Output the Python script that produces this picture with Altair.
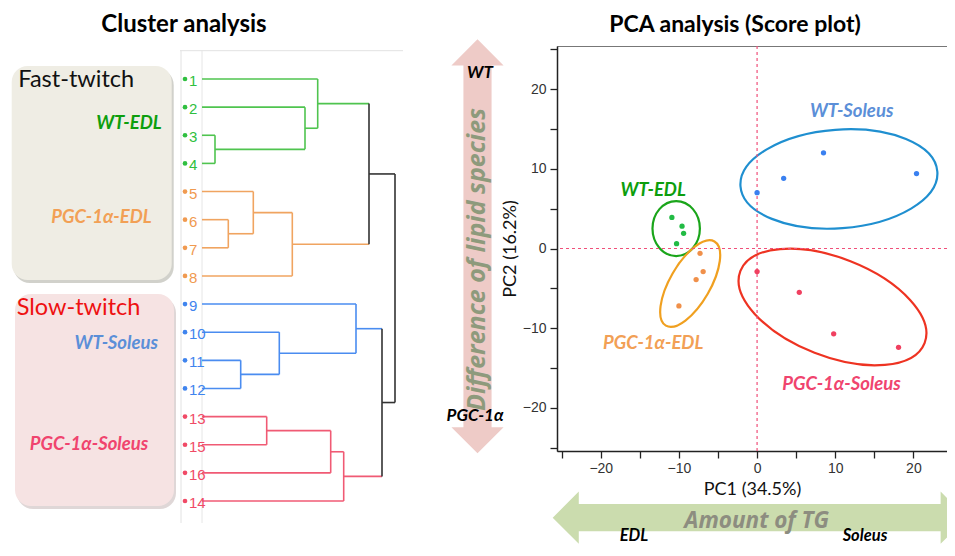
import altair as alt
import pandas as pd

# ---------------- data ----------------
groups = ["WT-EDL", "PGC-1α-EDL", "WT-Soleus", "PGC-1α-Soleus"]

# PCA scores
wt_edl_pc1 = [-10.9, -9.6, -9.4, -10.3]
wt_edl_pc2 = [3.9, 2.8, 1.9, 0.6]
pgc_edl_pc1 = [-7.3, -6.9, -7.8, -10.0]
pgc_edl_pc2 = [-0.6, -2.9, -3.9, -7.2]
wt_sol_pc1 = [0.0, 3.4, 8.5, 20.4]
wt_sol_pc2 = [7.0, 8.8, 12.0, 9.4]
pgc_sol_pc1 = [0.0, 5.4, 9.8, 18.1]
pgc_sol_pc2 = [-2.9, -5.5, -10.7, -12.4]

# group ellipse centres (PC1, PC2)
ell_pc1 = [-10.35, -8.56, 10.47, 9.65]
ell_pc2 = [2.5, -4.4, 8.72, -7.34]

# group label positions (PC1, PC2)
lab_pc1 = [-13.3, -13.3, 12.1, 10.8]
lab_pc2 = [7.4, -11.8, 17.3, -17.0]

# dendrogram: leaf order (top to bottom) and groups
leaf_labels = ["1", "2", "3", "4", "5", "6", "7", "8",
               "9", "10", "11", "12", "13", "15", "16", "14"]
leaf_groups = ["WT-EDL"] * 4 + ["PGC-1α-EDL"] * 4 + ["WT-Soleus"] * 4 + ["PGC-1α-Soleus"] * 4

merge_names = ["A", "B", "C", "D", "E", "F", "G", "H", "I", "J", "K", "L", "M", "N", "R"]
merge_left = ["3", "2", "1", "6", "5", "E", "C", "11", "10", "9", "13", "K", "L", "J", "G"]
merge_right = ["4", "A", "B", "7", "D", "8", "F", "12", "H", "I", "15", "16", "14", "M", "N"]
merge_heights = [13, 103, 115.7, 26.3, 51.3, 90.3, 167,
                 38.7, 77.3, 154, 64.7, 128.7, 141.7, 180, 193]
merge_groups = (["WT-EDL"] * 3 + ["PGC-1α-EDL"] * 3 + ["mixed"] +
                ["WT-Soleus"] * 3 + ["PGC-1α-Soleus"] * 3 + ["mixed"] * 2)

# ---------------- styles / layout ----------------
pt_colors = ["#22bb44", "#f0904a", "#3a80f0", "#f04060"]
ell_colors = ["#1aa51a", "#f0a020", "#1f8fd0", "#ee3322"]
lab_colors = ["#0d9e0d", "#f2a055", "#5b8fd8", "#f0446e"]
dendro_colors = {"WT-EDL": "#4fc44f", "PGC-1α-EDL": "#f0a460",
                 "WT-Soleus": "#4a8cf0", "PGC-1α-Soleus": "#f05a74", "mixed": "#333333"}
leaf_colors = {"WT-EDL": "#2fbf3f", "PGC-1α-EDL": "#f09a50",
               "WT-Soleus": "#3f84ee", "PGC-1α-Soleus": "#f04a66"}
LEAF_FONT = "Liberation Sans"

OX, OY = 557, 46          # page position of the PCA plot area's top-left corner
PW, PH = 390, 405         # PCA plot area size


def RX(x):
    return x - OX


def RY(y):
    return y - OY


one = alt.Data(values=[{"a": 1}])


def txt(s, x, y, size, color, weight="normal", style="normal", align="center",
        angle=None, font="Lato"):
    kw = dict(text=s, fontSize=size, color=color, fontWeight=weight, fontStyle=style,
              align=align, baseline="middle", font=font)
    if angle is not None:
        kw["angle"] = angle
    return alt.Chart(one).mark_text(**kw).encode(x=alt.value(RX(x)), y=alt.value(RY(y)))


def box(x, x2, y, y2, color, r=0, opacity=1.0):
    return alt.Chart(one).mark_rect(color=color, cornerRadius=r, opacity=opacity).encode(
        x=alt.value(RX(x)), x2=alt.value(RX(x2)), y=alt.value(RY(y)), y2=alt.value(RY(y2)))


def rule(x, x2, y, y2, color, w=1.0):
    return alt.Chart(one).mark_rule(color=color, strokeWidth=w).encode(
        x=alt.value(RX(x)), x2=alt.value(RX(x2)), y=alt.value(RY(y)), y2=alt.value(RY(y2)))


def ellipse_path(rx, ry):
    m = max(rx, ry)
    a, b, k = rx / m, ry / m, 0.5523
    f = lambda v: f"{v:.4f}"
    return (f"M{f(a)},0C{f(a)},{f(k*b)} {f(k*a)},{f(b)} 0,{f(b)}"
            f"C{f(-k*a)},{f(b)} {f(-a)},{f(k*b)} {f(-a)},0"
            f"C{f(-a)},{f(-k*b)} {f(-k*a)},{f(-b)} 0,{f(-b)}"
            f"C{f(k*a)},{f(-b)} {f(a)},{f(-k*b)} {f(a)},0Z"), (2 * m) ** 2


def arrow_path(head_w, shaft_w, head_l, vertical=True):
    pts = [(0, -1), (head_w, -1 + head_l), (shaft_w, -1 + head_l), (shaft_w, 1 - head_l),
           (head_w, 1 - head_l), (0, 1), (-head_w, 1 - head_l), (-shaft_w, 1 - head_l),
           (-shaft_w, -1 + head_l), (-head_w, -1 + head_l)]
    if not vertical:
        pts = [(y, x) for x, y in pts]
    return "M" + "L".join(f"{x:.4f},{y:.4f}" for x, y in pts) + "Z"


def arrow(cx, cy, shape, color):
    return alt.Chart(one).mark_point(shape=shape, size=414 ** 2, filled=True, color=color,
                                     opacity=1, strokeWidth=0).encode(
        x=alt.value(RX(cx)), y=alt.value(RY(cy)))


# ---------------- decorations (left panel + arrows), page coordinates ----------------
deco = [
    box(13.7, 173.7, 69, 283, "#bdbdb5", r=16, opacity=0.7),
    box(11.7, 171.7, 66, 280, "#efede4", r=16),
    box(17, 176, 297, 509, "#c9bdbd", r=16, opacity=0.6),
    box(15, 174, 294, 506, "#f6e3e3", r=16),
    txt("Fast-twitch", 18.3, 80, 23.5, "#111111", align="left"),
    txt("WT-EDL", 161.7, 122.7, 18.5, lab_colors[0], "bold", "italic", "right"),
    txt("PGC-1α-EDL", 151.7, 216.7, 18.5, lab_colors[1], "bold", "italic", "right"),
    txt("Slow-twitch", 16.7, 308.3, 23.5, "#ee1111", align="left"),
    txt("WT-Soleus", 158, 342.7, 18.5, lab_colors[2], "bold", "italic", "right"),
    txt("PGC-1α-Soleus", 148.3, 444, 18.5, lab_colors[3], "bold", "italic", "right"),
    txt("Cluster analysis", 184, 25, 24, "#000000", "bold"),
    txt("PCA analysis (Score plot)", 735, 25, 23, "#000000", "bold"),
    # dendrogram frame
    rule(180, 403, 50.7, 50.7, "#e2e2e2"),
    rule(181, 181, 50.7, 523, "#e2e2e2"),
    rule(202, 202, 50.7, 523, "#e6e6e6"),
    # vertical arrow
    arrow(477.5, 246.3, arrow_path(0.126, 0.068, 0.126, True), "#eecbc7"),
    txt("Difference of lipid species", 476.7, 259.5, 25, "#8e9a7c", "bold", "italic",
        angle=270, font="Open Sans"),
    txt("WT", 480, 72.5, 17, "#000000", "bold", "italic"),
    txt("PGC-1α", 475, 416, 17, "#000000", "bold", "italic"),
    # horizontal arrow
    arrow(759.7, 517.7, arrow_path(0.126, 0.066, 0.126, False), "#cbdcae"),
    txt("Amount of TG", 756.7, 520.7, 22.5, "#8d8d80", "bold", "italic", font="Open Sans"),
    txt("EDL", 634, 536, 16.5, "#000000", "bold", "italic"),
    txt("Soleus", 865, 536, 16.5, "#000000", "bold", "italic"),
]

# ---------------- dendrogram ----------------
node_y = {lab: i for i, lab in enumerate(leaf_labels)}
node_h = {lab: 0.0 for lab in leaf_labels}
node_g = dict(zip(leaf_labels, leaf_groups))
segs = []
for name, l, r, h, g in zip(merge_names, merge_left, merge_right, merge_heights, merge_groups):
    for c in (l, r):
        segs.append({"x": node_h[c], "x2": h, "y": node_y[c], "y2": node_y[c],
                     "c": dendro_colors[node_g[c]]})
    segs.append({"x": h, "x2": h, "y": node_y[l], "y2": node_y[r], "c": dendro_colors[g]})
    node_y[name] = (node_y[l] + node_y[r]) / 2
    node_h[name] = h
    node_g[name] = g
seg_df = pd.DataFrame(segs)

dxs = alt.Scale(domain=[0, 200], range=[RX(202), RX(402)], nice=False, zero=False)
dys = alt.Scale(domain=[0, 15], range=[RY(79), RY(501)], nice=False, zero=False)

seg_layer = alt.Chart(seg_df).mark_rule(strokeWidth=1.6).encode(
    x=alt.X("x:Q", scale=dxs, axis=None), x2="x2:Q",
    y=alt.Y("y:Q", scale=dys, axis=None), y2="y2:Q",
    color=alt.Color("c:N", scale=None))

leaf_df = pd.DataFrame({"idx": list(range(len(leaf_labels))), "lab": leaf_labels,
                        "c": [leaf_colors[g] for g in leaf_groups]})
dots = alt.Chart(leaf_df).mark_circle(size=22, opacity=1).encode(
    x=alt.value(RX(185)), y=alt.Y("idx:Q", scale=dys, axis=None),
    color=alt.Color("c:N", scale=None))
leaf_txt = alt.Chart(leaf_df).mark_text(align="left", baseline="middle", dy=2, fontSize=15,
                                        font=LEAF_FONT).encode(
    x=alt.value(RX(189)), y=alt.Y("idx:Q", scale=dys, axis=None), text="lab:N",
    color=alt.Color("c:N", scale=None))
dendro = alt.layer(seg_layer, dots, leaf_txt)

# ---------------- PCA score plot ----------------
xs = alt.Scale(domain=[-25.6, 24.3], nice=False, zero=False)
ys = alt.Scale(domain=[-25.4, 25.4], nice=False, zero=False)
lab_expr = "datum.value % 10 === 0 ? datum.label : ''"
xaxis = alt.Axis(orient="bottom", values=list(range(-25, 25, 5)), labelExpr=lab_expr,
                 title="PC1 (34.5%)", labelPadding=3, titlePadding=5, labelOverlap=False)
yaxis = alt.Axis(orient="left", values=list(range(-25, 26, 5)), labelExpr=lab_expr,
                 title="PC2 (16.2%)", labelPadding=4, titlePadding=3, labelOverlap=False)


def PX(d):
    return alt.X(datum=d, type="quantitative", scale=xs, axis=xaxis)


def PY(d):
    return alt.Y(datum=d, type="quantitative", scale=ys, axis=yaxis)


pca_df = pd.DataFrame({
    "pc1": wt_edl_pc1 + pgc_edl_pc1 + wt_sol_pc1 + pgc_sol_pc1,
    "pc2": wt_edl_pc2 + pgc_edl_pc2 + wt_sol_pc2 + pgc_sol_pc2,
    "group": [groups[0]] * 4 + [groups[1]] * 4 + [groups[2]] * 4 + [groups[3]] * 4,
})

# ellipse shapes (pixel semi-axes and rotation)
ell_rx = [23.7, 48.6, 98.7, 98.9]
ell_ry = [27.5, 20.3, 49.3, 49.2]
ell_angle = [0, 300, 355.8, 21.4]

pca_layers = []
for i in range(4):
    path, size = ellipse_path(ell_rx[i], ell_ry[i])
    pca_layers.append(
        alt.Chart(one).mark_point(shape=path, size=size, angle=ell_angle[i], filled=False,
                                  strokeWidth=2.2, color=ell_colors[i], opacity=1)
        .encode(x=PX(ell_pc1[i]), y=PY(ell_pc2[i])))

pca_layers.append(alt.Chart(one).mark_rule(color="#f0507a", strokeDash=[3, 3], strokeWidth=1.2)
                  .encode(x=PX(0)))
pca_layers.append(alt.Chart(one).mark_rule(color="#f0507a", strokeDash=[3, 3], strokeWidth=1.2)
                  .encode(y=PY(0)))

points = alt.Chart(pca_df).mark_circle(size=28, opacity=1).encode(
    x=alt.X("pc1:Q", scale=xs, axis=xaxis),
    y=alt.Y("pc2:Q", scale=ys, axis=yaxis),
    color=alt.Color("group:N", scale=alt.Scale(domain=groups, range=pt_colors), legend=None))
pca_layers.append(points)

lab_df = pd.DataFrame({"pc1": lab_pc1, "pc2": lab_pc2, "t": groups, "c": lab_colors})
pca_layers.append(alt.Chart(lab_df).mark_text(fontSize=18.5, fontWeight="bold", fontStyle="italic",
                                              font="Lato", baseline="middle").encode(
    x=alt.X("pc1:Q", scale=xs, axis=xaxis), y=alt.Y("pc2:Q", scale=ys, axis=yaxis),
    text="t:N", color=alt.Color("c:N", scale=None)))

pca = alt.layer(*pca_layers)

chart = alt.layer(*deco, dendro, pca).resolve_scale(
    x="independent", y="independent"
).properties(
    width=PW, height=PH,
    padding={"left": OX - 8, "top": OY - 8, "right": 0, "bottom": 97},
    autosize=alt.AutoSizeParams(type="none"),
).configure_view(
    stroke="#777777", strokeWidth=1
).configure_axis(
    grid=False, domainColor="#222222", domainWidth=1.5, tickColor="#222222", tickWidth=1.3,
    tickSize=7, labelFont="Liberation Sans", labelFontSize=14, labelColor="#333333",
    titleFont="Lato", titleFontSize=18, titleFontWeight="normal", titleColor="#111111",
)

chart.save("out.html", embed_options={"renderer": "svg", "actions": False})
